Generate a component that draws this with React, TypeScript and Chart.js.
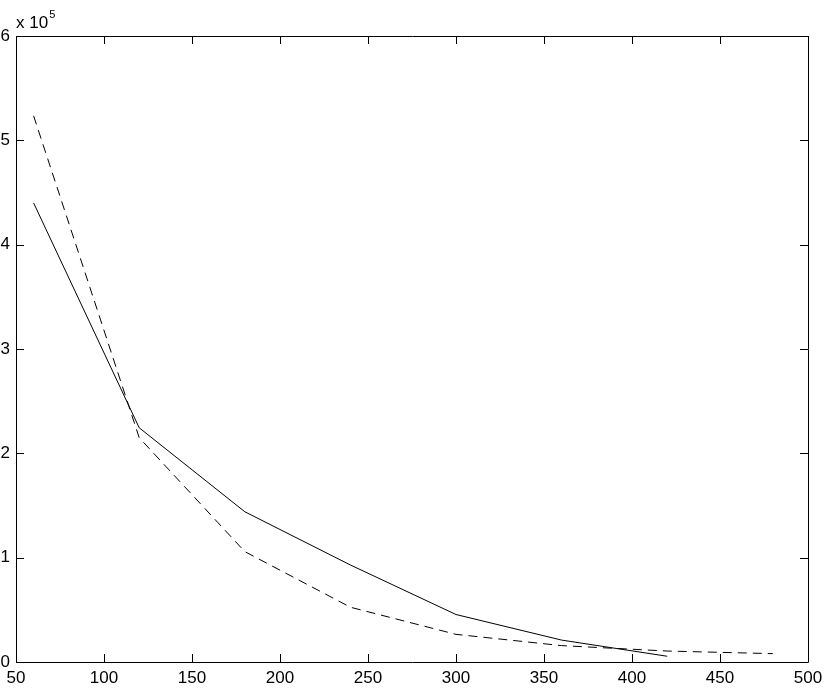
import React, { useEffect, useRef } from "react";
import { Chart, registerables } from "chart.js";

Chart.register(...registerables);

const xSolid = [60, 120, 180, 240, 300, 360, 420];
const ySolid = [440000, 224500, 144000, 93000, 45500, 21000, 5500];
const xDashed = [60, 120, 180, 240, 300, 360, 420, 480];
const yDashed = [523500, 215000, 105800, 52500, 26500, 15700, 10500, 8000];
const xTicks = [50, 100, 150, 200, 250, 300, 350, 400, 450, 500];
const yTicks = [0, 100000, 200000, 300000, 400000, 500000, 600000];
const exponentBase = "x 10";
const exponentPower = "5";

const FONT = "'Liberation Sans', Arial, Helvetica, sans-serif";

const boxPlugin = {
  id: "matlabBox",
  afterDraw(chart: any) {
    const { ctx, chartArea } = chart;
    const { left, right, top, bottom } = chartArea;
    const xs = chart.scales.x;
    const ys = chart.scales.y;
    ctx.save();
    ctx.strokeStyle = "#000";
    ctx.lineWidth = 1;
    ctx.beginPath();
    ctx.rect(Math.round(left) + 0.5, Math.round(top) + 0.5, Math.round(right - left), Math.round(bottom - top));
    ctx.stroke();
    const tl = 8;
    ctx.beginPath();
    xTicks.forEach((v) => {
      const px = Math.round(xs.getPixelForValue(v)) + 0.5;
      ctx.moveTo(px, bottom);
      ctx.lineTo(px, bottom - tl);
      ctx.moveTo(px, top);
      ctx.lineTo(px, top + tl);
    });
    yTicks.forEach((v) => {
      const py = Math.round(ys.getPixelForValue(v)) + 0.5;
      ctx.moveTo(left, py);
      ctx.lineTo(left + tl, py);
      ctx.moveTo(right, py);
      ctx.lineTo(right - tl, py);
    });
    ctx.stroke();
    ctx.fillStyle = "#000";
    ctx.textBaseline = "alphabetic";
    ctx.textAlign = "left";
    ctx.font = `17px ${FONT}`;
    ctx.fillText(exponentBase, left, top - 8);
    const w = ctx.measureText(exponentBase).width;
    ctx.font = `11px ${FONT}`;
    ctx.fillText(exponentPower, left + w + 1, top - 18);
    ctx.restore();
  },
};

export default function App() {
  const ref = useRef<HTMLCanvasElement>(null);
  useEffect(() => {
    if (!ref.current) return;
    const chart = new Chart(ref.current, {
      type: "line",
      data: {
        datasets: [
          {
            data: xSolid.map((x, i) => ({ x, y: ySolid[i] })),
            borderColor: "#000",
            borderWidth: 1,
            pointRadius: 0,
            tension: 0,
            fill: false,
          },
          {
            data: xDashed.map((x, i) => ({ x, y: yDashed[i] })),
            borderColor: "#000",
            borderWidth: 1,
            borderDash: [9, 6],
            pointRadius: 0,
            tension: 0,
            fill: false,
          },
        ],
      },
      options: {
        responsive: false,
        animation: false,
        layout: { padding: { top: 36, right: 22, left: 0, bottom: 0 } },
        plugins: { legend: { display: false }, tooltip: { enabled: false } },
        scales: {
          x: {
            type: "linear",
            min: 50,
            max: 500,
            afterBuildTicks: (s: any) => {
              s.ticks = xTicks.map((v) => ({ value: v }));
            },
            afterFit: (s: any) => {
              s.height = 26;
            },
            grid: { display: false, drawTicks: false },
            border: { display: false },
            ticks: {
              color: "#000",
              font: { family: FONT, size: 17 },
              padding: 6,
              maxRotation: 0,
              autoSkip: false,
            },
          },
          y: {
            type: "linear",
            min: 0,
            max: 600000,
            afterBuildTicks: (s: any) => {
              s.ticks = yTicks.map((v) => ({ value: v }));
            },
            afterFit: (s: any) => {
              s.width = 16;
            },
            grid: { display: false, drawTicks: false },
            border: { display: false },
            ticks: {
              color: "#000",
              font: { family: FONT, size: 17 },
              padding: 6,
              callback: (v: any) => String(Number(v) / 100000),
            },
          },
        },
      },
      plugins: [boxPlugin],
    });
    return () => chart.destroy();
  }, []);
  return (
    <div style={{ position: "absolute", left: 0, top: 0, width: 830, height: 688, background: "#fff" }}>
      <canvas ref={ref} width={830} height={688} style={{ display: "block" }} />
    </div>
  );
}
